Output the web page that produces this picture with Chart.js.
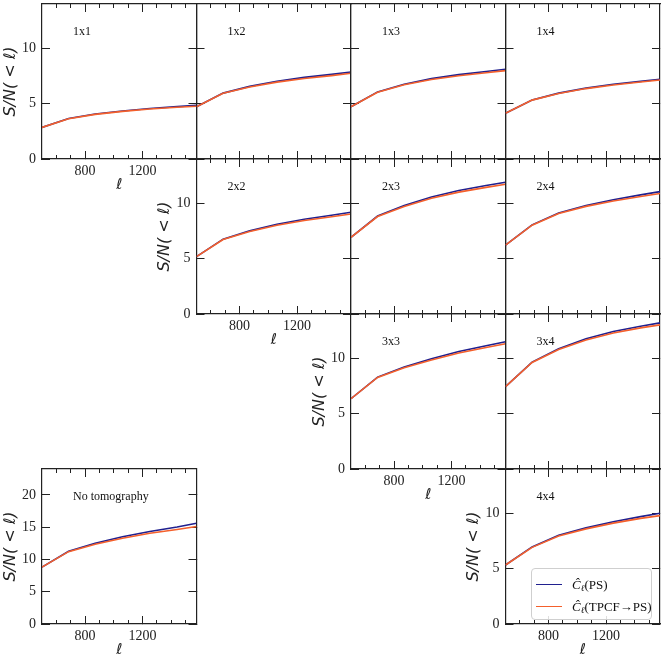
<!DOCTYPE html>
<html>
<head>
<meta charset="utf-8">
<script src="https://cdn.jsdelivr.net/npm/chart.js@4.4.1/dist/chart.umd.min.js"></script>
<style>
  body { margin: 0; background: #fff; }
  #wrap { position: relative; width: 665px; height: 665px; }
  #wrap canvas { position: absolute; left: 0; top: 0; }
  #legend {
    position: absolute; left: 531px; top: 568px; width: 121px; height: 52px;
    box-sizing: border-box; border: 1px solid #cfcfcf; border-radius: 4px;
    background: rgba(255, 255, 255, 0.85);
    font-family: "Liberation Serif", serif; font-size: 13px; color: #111;
  }
  #legend .row { position: absolute; left: 0; height: 18px; line-height: 18px; white-space: nowrap; }
  #legend .swatch { position: absolute; left: 4px; top: 8px; width: 26px; height: 0; border-top: 1.6px solid; }
  #legend .txt { position: absolute; left: 40px; top: 0; }
  #legend sub { font-size: 9px; vertical-align: -2px; line-height: 0; }
</style>
</head>
<body>
<div id="wrap"></div>
<script>
// multipole values where S/N(<l) was evaluated
const ells = [500, 685, 870, 1060, 1250, 1440, 1575];

// tick labels
const xMajorTicks = [800, 1200];
const xMinorTicks = [600, 700, 900, 1000, 1100, 1300, 1400, 1500];
const yTicks = [0, 5, 10];
const yTicksNoTomo = [0, 5, 10, 15, 20];

// S/N for C_l (PS) and C_l (TPCF -> PS), one pair per bin combination
const ps11 = [2.85, 3.66, 4.06, 4.34, 4.56, 4.73, 4.84];
const tp11 = [2.85, 3.64, 4.03, 4.30, 4.51, 4.67, 4.77];
const ps12 = [4.72, 5.95, 6.56, 7.02, 7.37, 7.64, 7.86];
const tp12 = [4.72, 5.93, 6.51, 6.94, 7.27, 7.53, 7.74];
const ps13 = [4.72, 6.06, 6.76, 7.26, 7.62, 7.91, 8.10];
const tp13 = [4.72, 6.03, 6.70, 7.18, 7.52, 7.79, 7.98];
const ps14 = [4.13, 5.33, 5.95, 6.40, 6.75, 7.01, 7.20];
const tp14 = [4.13, 5.32, 5.92, 6.36, 6.69, 6.95, 7.13];
const ps22 = [5.18, 6.76, 7.51, 8.11, 8.56, 8.92, 9.19];
const tp22 = [5.18, 6.72, 7.45, 8.02, 8.45, 8.79, 9.03];
const ps23 = [6.93, 8.85, 9.80, 10.56, 11.15, 11.60, 11.90];
const tp23 = [6.93, 8.80, 9.72, 10.45, 11.01, 11.44, 11.72];
const ps24 = [6.23, 8.05, 9.12, 9.80, 10.32, 10.76, 11.05];
const tp24 = [6.23, 8.02, 9.07, 9.72, 10.21, 10.62, 10.88];
const ps33 = [6.35, 8.30, 9.22, 9.96, 10.62, 11.14, 11.50];
const tp33 = [6.35, 8.27, 9.14, 9.85, 10.48, 10.98, 11.32];
const ps34 = [7.44, 9.66, 10.86, 11.76, 12.42, 12.90, 13.20];
const tp34 = [7.44, 9.62, 10.80, 11.66, 12.29, 12.75, 13.02];
const ps44 = [5.33, 6.96, 8.01, 8.68, 9.24, 9.70, 10.00];
const tp44 = [5.33, 6.92, 7.95, 8.59, 9.11, 9.54, 9.79];
const psNoTomo = [8.80, 11.25, 12.50, 13.50, 14.32, 15.02, 15.60];
const tpNoTomo = [8.80, 11.20, 12.35, 13.28, 14.04, 14.64, 15.10];

const seriesLabels = ['Ĉℓ(PS)', 'Ĉℓ(TPCF→PS)'];
const seriesHtml = ['<i>Ĉ</i><sub><i>ℓ</i></sub>(PS)', '<i>Ĉ</i><sub><i>ℓ</i></sub>(TPCF→PS)'];

const blue = '#20208f';
const orange = '#f4602c';
const ink = '#222';

// grid placement
const colLeft = [42, 196.5, 351, 505.5];
const rowTop = [4, 159, 314, 469];
const panelW = 154.5, panelH = 155;
const yAxisW = 42, xAxisH = 35;

const panels = [
  { name: '1x1', row: 0, col: 0, ps: ps11, tp: tp11, labels: true },
  { name: '1x2', row: 0, col: 1, ps: ps12, tp: tp12 },
  { name: '1x3', row: 0, col: 2, ps: ps13, tp: tp13 },
  { name: '1x4', row: 0, col: 3, ps: ps14, tp: tp14 },
  { name: '2x2', row: 1, col: 1, ps: ps22, tp: tp22, labels: true },
  { name: '2x3', row: 1, col: 2, ps: ps23, tp: tp23 },
  { name: '2x4', row: 1, col: 3, ps: ps24, tp: tp24 },
  { name: '3x3', row: 2, col: 2, ps: ps33, tp: tp33, labels: true },
  { name: '3x4', row: 2, col: 3, ps: ps34, tp: tp34 },
  { name: '4x4', row: 3, col: 3, ps: ps44, tp: tp44, labels: true, legend: true },
  { name: 'No tomography', row: 3, col: 0, ps: psNoTomo, tp: tpNoTomo, labels: true, ymax: 24, yticks: yTicksNoTomo }
];

Chart.defaults.font.family = '"Liberation Serif", "Times New Roman", serif';
Chart.defaults.color = ink;

const panelLabel = {
  id: 'panelLabel',
  afterDraw(chart, args, opts) {
    const { ctx, chartArea } = chart;
    ctx.save();
    ctx.font = '12px "Liberation Serif"';
    ctx.fillStyle = '#111';
    ctx.textBaseline = 'middle';
    ctx.fillText(opts.text, chartArea.left + 31, chartArea.top + 28);
    ctx.restore();
  }
};

// force a fixed box size and drop label overhang so every plot area lands on its grid cell
const fix = (w, h) => s => {
  if (w !== null) s.width = w;
  if (h !== null) s.height = h;
  s.paddingLeft = s.paddingRight = s.paddingTop = s.paddingBottom = 0;
};
const useTicks = list => s => { s.ticks = list.map(v => ({ value: v })); };

function tickAxis(position, list, len, weight, size) {
  const horiz = position === 'top' || position === 'bottom';
  return {
    type: 'linear', position, weight,
    afterBuildTicks: useTicks(list),
    afterFit: horiz ? fix(null, size) : fix(size, null),
    grid: { drawOnChartArea: false, tickLength: len, tickColor: ink, tickWidth: 1 },
    border: { display: false },
    ticks: { display: false }
  };
}

const wrap = document.getElementById('wrap');

panels.forEach(p => {
  const left = colLeft[p.col], top = rowTop[p.row];
  const ymax = p.ymax || 14;
  const yt = p.yticks || yTicks;
  const canvas = document.createElement('canvas');
  canvas.width = 665; canvas.height = 665;
  wrap.appendChild(canvas);

  const xr = { min: 500, max: 1575 };
  const yr = { min: 0, max: ymax };
  const border = { display: true, color: ink, width: 1.2 };

  new Chart(canvas, {
    type: 'line',
    data: {
      datasets: [
        { label: seriesLabels[0], data: ells.map((x, i) => ({ x, y: p.ps[i] })),
          borderColor: blue, backgroundColor: blue, borderWidth: 1.6, pointRadius: 0, order: 1,
          xAxisID: 'x', yAxisID: 'y' },
        { label: seriesLabels[1], data: ells.map((x, i) => ({ x, y: p.tp[i] })),
          borderColor: orange, backgroundColor: orange, borderWidth: 1.6, pointRadius: 0, order: 0,
          xAxisID: 'x', yAxisID: 'y' }
      ]
    },
    options: {
      responsive: false,
      animation: false,
      events: [],
      layout: {
        padding: {
          left: left - yAxisW,
          top: top,
          right: 665 - (left + panelW),
          bottom: 665 - (top + panelH) - xAxisH
        }
      },
      plugins: {
        legend: { display: false },
        tooltip: { enabled: false },
        panelLabel: { text: p.name }
      },
      scales: {
        x: {
          type: 'linear', position: 'bottom', weight: 1, ...xr,
          afterBuildTicks: useTicks(xMajorTicks),
          afterFit: fix(null, xAxisH),
          grid: { drawOnChartArea: false, tickLength: -8, tickColor: ink, tickWidth: 1 },
          border,
          ticks: { display: !!p.labels, padding: 12, font: { size: 14 }, maxRotation: 0, autoSkip: false,
                   callback: v => String(v) },
          title: { display: !!p.labels, text: 'ℓ', padding: 0,
                   font: { family: '"DejaVu Sans"', style: 'italic', size: 15 } }
        },
        xMinor: { ...tickAxis('bottom', xMinorTicks, -4, 0, 0), ...xr },
        xTop: { ...tickAxis('top', xMajorTicks, -8, 1, 0), ...xr, border },
        xTopMinor: { ...tickAxis('top', xMinorTicks, -4, 0, 0), ...xr },
        y: {
          type: 'linear', position: 'left', ...yr,
          afterBuildTicks: useTicks(yt),
          afterFit: fix(yAxisW, null),
          grid: { drawOnChartArea: false, tickLength: -8, tickColor: ink, tickWidth: 1 },
          border,
          ticks: { display: !!p.labels, padding: 14, font: { size: 14 }, callback: v => String(v) },
          title: { display: !!p.labels, text: 'S/N( < ℓ)', padding: { top: 1, bottom: 0 },
                   font: { family: '"DejaVu Sans"', style: 'italic', size: 16 } }
        },
        yRight: { ...tickAxis('right', yt, -8, 0, 0), ...yr, border }
      }
    },
    plugins: [panelLabel]
  });

  if (p.legend) {
    const lg = document.createElement('div');
    lg.id = 'legend';
    lg.innerHTML = seriesHtml.map((h, i) =>
      `<div class="row" style="top:${7 + i * 22}px;width:100%">` +
      `<span class="swatch" style="border-color:${[blue, orange][i]}"></span>` +
      `<span class="txt">${h}</span></div>`).join('');
    wrap.appendChild(lg);
  }
});
</script>
</body>
</html>
